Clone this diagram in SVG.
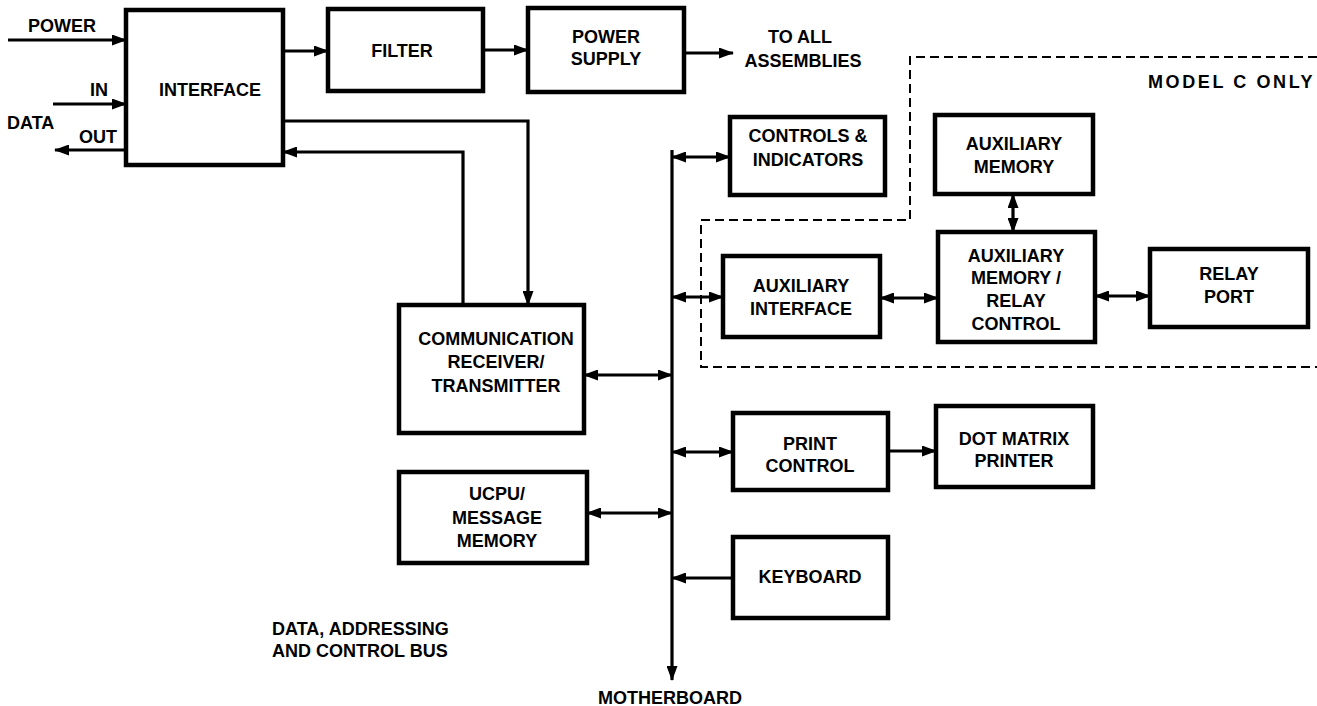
<svg xmlns="http://www.w3.org/2000/svg" width="1317" height="706" viewBox="0 0 1317 706">
<style>
.box{fill:#fff;stroke:#000;stroke-width:4.5}
text{font-family:"Liberation Sans",Arial,sans-serif;font-weight:bold;font-size:18px;fill:#000}
.c{text-anchor:middle}
.ln{fill:none;stroke:#000;stroke-width:3.2}
.dash{fill:none;stroke:#000;stroke-width:2;stroke-dasharray:9 5}
</style>
<defs>
<marker id="ah" markerWidth="15" markerHeight="11" refX="14" refY="5.5" orient="auto-start-reverse" markerUnits="userSpaceOnUse"><path d="M0,0 L15,5.5 L0,11 z" fill="#000"/></marker>
</defs>
<rect width="1317" height="706" fill="#fff"/>

<g id="connectors">
<path class="ln" d="M8,40 H126" marker-end="url(#ah)"/>
<path class="ln" d="M53,104 H126" marker-end="url(#ah)"/>
<path class="ln" d="M126,150 H55" marker-end="url(#ah)"/>
<path class="ln" d="M283,51 H328" marker-end="url(#ah)"/>
<path class="ln" d="M483,50 H528" marker-end="url(#ah)"/>
<path class="ln" d="M684,53 H733" marker-end="url(#ah)"/>
<path class="ln" d="M283,121 H528 V305" marker-end="url(#ah)"/>
<path class="ln" d="M463,305 V152 H283" marker-end="url(#ah)"/>
<path class="ln" d="M672,150 V680" marker-end="url(#ah)"/>
<path class="ln" d="M672,157 H730" marker-start="url(#ah)" marker-end="url(#ah)"/>
<path class="ln" d="M672,297 H723" marker-start="url(#ah)" marker-end="url(#ah)"/>
<path class="ln" d="M584,375 H672" marker-start="url(#ah)" marker-end="url(#ah)"/>
<path class="ln" d="M587,513 H672" marker-start="url(#ah)" marker-end="url(#ah)"/>
<path class="ln" d="M672,452 H733" marker-start="url(#ah)" marker-end="url(#ah)"/>
<path class="ln" d="M733,578 H672" marker-end="url(#ah)"/>
<path class="ln" d="M888,451 H936" marker-end="url(#ah)"/>
<path class="ln" d="M880,298 H938" marker-start="url(#ah)" marker-end="url(#ah)"/>
<path class="ln" d="M1095,296 H1150" marker-start="url(#ah)" marker-end="url(#ah)"/>
<path class="ln" d="M1013,194 V232" marker-start="url(#ah)" marker-end="url(#ah)"/>
</g>

<g id="model-c-boundary">
<path class="dash" d="M1317,57 H910 V220 H701 V367 H1317"/>
<text x="1148" y="88" style="letter-spacing:2.6px">MODEL C ONLY</text>
</g>

<g id="labels">
<text x="28" y="32">POWER</text>
<text x="90" y="96">IN</text>
<text x="7" y="129">DATA</text>
<text x="79" y="143">OUT</text>
<text class="c" x="800" y="43">TO ALL</text>
<text class="c" x="803" y="67">ASSEMBLIES</text>
<text x="272" y="635">DATA, ADDRESSING</text>
<text x="272" y="657">AND CONTROL BUS</text>
<text class="c" x="670" y="704">MOTHERBOARD</text>
</g>

<g id="interface"><rect class="box" x="126" y="10" width="157" height="155"/><text class="c" x="210" y="96">INTERFACE</text></g>
<g id="filter"><rect class="box" x="328" y="9" width="155" height="82"/><text class="c" x="402" y="57">FILTER</text></g>
<g id="power-supply"><rect class="box" x="528" y="8" width="156" height="84"/><text class="c" x="606" y="43">POWER</text><text class="c" x="606" y="65">SUPPLY</text></g>
<g id="controls"><rect class="box" x="730" y="117" width="155" height="78"/><text class="c" x="808" y="142">CONTROLS &amp;</text><text class="c" x="808" y="166">INDICATORS</text></g>
<g id="aux-memory"><rect class="box" x="935" y="115" width="158" height="79"/><text class="c" x="1014" y="150">AUXILIARY</text><text class="c" x="1014" y="173">MEMORY</text></g>
<g id="aux-interface"><rect class="box" x="723" y="256" width="157" height="81"/><text class="c" x="801" y="292">AUXILIARY</text><text class="c" x="801" y="315">INTERFACE</text></g>
<g id="aux-relay-control"><rect class="box" x="938" y="232" width="157" height="110"/><text class="c" x="1016" y="262">AUXILIARY</text><text class="c" x="1016" y="284">MEMORY /</text><text class="c" x="1016" y="307">RELAY</text><text class="c" x="1016" y="330">CONTROL</text></g>
<g id="relay-port"><rect class="box" x="1150" y="249" width="158" height="78"/><text class="c" x="1229" y="280">RELAY</text><text class="c" x="1229" y="303">PORT</text></g>
<g id="comm"><rect class="box" x="399" y="305" width="185" height="128"/><text class="c" x="496" y="345">COMMUNICATION</text><text class="c" x="496" y="368">RECEIVER/</text><text class="c" x="496" y="392">TRANSMITTER</text></g>
<g id="ucpu"><rect class="box" x="399" y="472" width="188" height="91"/><text class="c" x="497" y="500">UCPU/</text><text class="c" x="497" y="524">MESSAGE</text><text class="c" x="497" y="547">MEMORY</text></g>
<g id="print-control"><rect class="box" x="733" y="413" width="155" height="77"/><text class="c" x="810" y="450">PRINT</text><text class="c" x="810" y="472">CONTROL</text></g>
<g id="dot-matrix"><rect class="box" x="936" y="406" width="157" height="81"/><text class="c" x="1014" y="445">DOT MATRIX</text><text class="c" x="1014" y="467">PRINTER</text></g>
<g id="keyboard"><rect class="box" x="733" y="537" width="155" height="81"/><text class="c" x="810" y="583">KEYBOARD</text></g>
</svg>
